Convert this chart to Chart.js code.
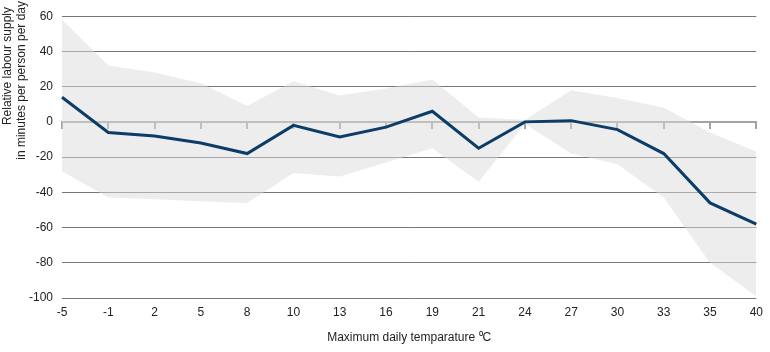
<!DOCTYPE html>
<html>
<head>
<meta charset="utf-8">
<script src="https://cdn.jsdelivr.net/npm/chart.js@4"></script>
<style>
  html, body { margin: 0; padding: 0; background: #fff; }
  #wrap { width: 770px; height: 352px; }
</style>
</head>
<body>
<div id="wrap"><canvas id="labourChart" width="770" height="352"></canvas></div>
<script>
const temps = ['-5', '-1', '2', '5', '8', '10', '13', '16', '19', '21', '24', '27', '30', '33', '35', '40'];
const labourSupply = [14, -6, -8, -12, -18, -2, -8.5, -3, 6, -15, 0, 0.7, -4.4, -18, -46, -58];
const upperBand = [58, 32, 28, 22, 9, 23, 15, 19, 24, 2.5, 1, 18, 13.5, 8, -6, -17];
const lowerBand = [-28, -43, -44, -45, -46, -29, -31, -23, -15, -34, -1, -18, -24, -43, -80, -99];
const yTitle = ['Relative labour supply', 'in minutes per person per day'];

const textColor = '#222';
const font = { family: '"Liberation Sans", Arial, sans-serif', size: 12 };

// y title drawn by hand, lines end near the top like in the original
const yTitlePlugin = {
  id: 'yTitle',
  afterDraw(chart) {
    const ctx = chart.ctx;
    ctx.save();
    ctx.font = '12px "Liberation Sans", Arial, sans-serif';
    ctx.fillStyle = textColor;
    ctx.textAlign = 'right';
    ctx.textBaseline = 'middle';
    const spots = [[8, 7], [22, 1]];
    yTitle.forEach((t, i) => {
      ctx.save();
      ctx.translate(spots[i][0], spots[i][1]);
      ctx.rotate(-Math.PI / 2);
      ctx.fillText(t, 0, 0);
      ctx.restore();
    });
    ctx.restore();
  }
};

new Chart(document.getElementById('labourChart').getContext('2d'), {
  type: 'line',
  data: {
    labels: temps,
    datasets: [
      {
        label: 'Relative labour supply',
        data: labourSupply,
        borderColor: '#0c3c68',
        borderWidth: 3,
        pointRadius: 0,
        tension: 0,
        fill: false,
        order: 0
      },
      {
        label: 'upper',
        data: upperBand,
        borderWidth: 0,
        pointRadius: 0,
        backgroundColor: 'rgba(221, 220, 222, 0.5)',
        fill: '+1',
        order: 1
      },
      {
        label: 'lower',
        data: lowerBand,
        borderWidth: 0,
        pointRadius: 0,
        backgroundColor: 'rgba(221, 220, 222, 0.5)',
        fill: false,
        order: 2
      }
    ]
  },
  options: {
    responsive: false,
    animation: false,
    layout: { padding: { top: 14, right: 13, bottom: 0, left: 0 } },
    plugins: {
      legend: { display: false },
      tooltip: { enabled: false }
    },
    scales: {
      x: {
        type: 'category',
        offset: false,
        grid: { display: false, drawTicks: false },
        border: { display: false },
        ticks: { color: textColor, font: font, padding: 7, maxRotation: 0, autoSkip: false },
        title: {
          display: true,
          text: 'Maximum daily temparature \u2070C',
          color: textColor,
          font: font,
          padding: { top: 4, bottom: 7 }
        },
        afterFit(scale) { scale.height = 54; }
      },
      x2: {
        type: 'category',
        labels: temps,
        offset: false,
        position: { y: 0 },
        grid: { drawOnChartArea: false, drawTicks: true, tickLength: 6, color: '#a3a3a3', lineWidth: 2 },
        border: { color: '#a3a3a3', width: 2 },
        ticks: { display: false }
      },
      y: {
        min: -100,
        max: 60,
        ticks: { stepSize: 20, color: textColor, font: font, padding: 9 },
        grid: {
          color: ctx => ctx.tick && ctx.tick.value === 0 ? 'rgba(0,0,0,0)' : '#777',
          lineWidth: 1,
          drawTicks: false
        },
        border: { display: false },
        afterFit(scale) { scale.width = 62; }
      }
    }
  },
  plugins: [yTitlePlugin]
});
</script>
</body>
</html>
